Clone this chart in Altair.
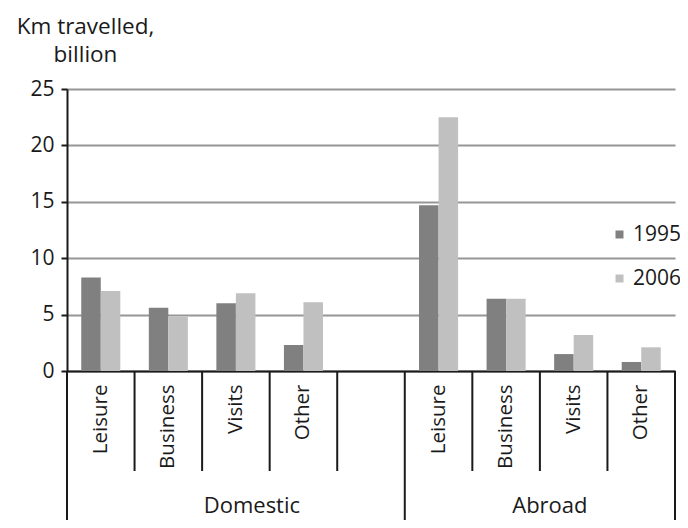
import altair as alt
import pandas as pd

# ---- data ----
slots = ["D-Leisure", "D-Business", "D-Visits", "D-Other", "gap",
         "A-Leisure", "A-Business", "A-Visits", "A-Other"]
categories = ["Leisure", "Business", "Visits", "Other"]
years = ["1995", "2006"]
dom_1995 = [8.3, 5.6, 6.0, 2.3]
dom_2006 = [7.1, 4.8, 6.9, 6.1]
abr_1995 = [14.7, 6.4, 1.5, 0.8]
abr_2006 = [22.5, 6.4, 3.2, 2.1]
group_labels = ["Domestic", "Abroad"]
y_ticks = [0, 5, 10, 15, 20, 25]

rows = []
for i, c in enumerate(categories):
    rows.append({"slot": "D-" + c, "year": "1995", "value": dom_1995[i]})
    rows.append({"slot": "D-" + c, "year": "2006", "value": dom_2006[i]})
for i, c in enumerate(categories):
    rows.append({"slot": "A-" + c, "year": "1995", "value": abr_1995[i]})
    rows.append({"slot": "A-" + c, "year": "2006", "value": abr_2006[i]})
df = pd.DataFrame(rows)

W, H = 608, 282
FONT = "Open Sans"
TXT = "#1a1a1a"
LINE = "#1a1a1a"

xscale = alt.Scale(domain=slots, paddingInner=0, paddingOuter=0)

bars = alt.Chart(df).mark_bar().encode(
    x=alt.X("slot:N", scale=xscale,
            axis=alt.Axis(title=None, ticks=False, labelAngle=270,
                          labelExpr="datum.value == 'gap' ? '' : substring(datum.value, 2)",
                          labelFontSize=20.5, labelFont=FONT, labelColor=TXT,
                          labelPadding=13, domainColor=LINE, domainWidth=2)),
    xOffset=alt.XOffset("year:N", scale=alt.Scale(paddingInner=0, paddingOuter=0.73)),
    y=alt.Y("value:Q", scale=alt.Scale(domain=[0, 25]),
            axis=alt.Axis(values=y_ticks, title=["Km travelled,", "billion"],
                          titleAngle=0, titleAlign="center", titleX=18, titleY=-56,
                          titleBaseline="alphabetic", titleLineHeight=28,
                          titleFontSize=22.5, titleFont=FONT, titleFontWeight="normal",
                          titleColor=TXT,
                          labelFontSize=21, labelFont=FONT, labelColor=TXT, labelPadding=7,
                          tickSize=6, tickColor=LINE, tickWidth=2,
                          domainColor=LINE, domainWidth=2,
                          grid=True, gridColor="#969696", gridWidth=2)),
    color=alt.Color("year:N", scale=alt.Scale(domain=years, range=["#808080", "#c0c0c0"]),
                    legend=alt.Legend(title=None, orient="none", legendX=542, legendY=135,
                                      symbolType="square", symbolSize=64,
                                      symbolStrokeWidth=0, labelFontSize=21,
                                      labelFont=FONT, labelColor=TXT, labelOffset=3,
                                      rowPadding=22, padding=0)),
)

inner_df = pd.DataFrame({"slot": [s for k, s in enumerate(slots) if k not in (0, 5)]})
inner = alt.Chart(inner_df).mark_rule(color=LINE, strokeWidth=2).encode(
    x=alt.X("slot:N", bandPosition=0, scale=xscale),
    y=alt.value(H), y2=alt.value(H + 100),
)

group_df = pd.DataFrame({"slot": [slots[0], slots[5]]})
group_lines = alt.Chart(group_df).mark_rule(color=LINE, strokeWidth=2).encode(
    x=alt.X("slot:N", bandPosition=0, scale=xscale),
    y=alt.value(H), y2=alt.value(H + 170),
)
end_df = pd.DataFrame({"slot": [slots[-1]]})
end_line = alt.Chart(end_df).mark_rule(color=LINE, strokeWidth=2).encode(
    x=alt.X("slot:N", bandPosition=1, scale=xscale),
    y=alt.value(H), y2=alt.value(H + 170),
)

dom_text = alt.Chart(pd.DataFrame({"slot": [slots[2]], "label": [group_labels[0]]})).mark_text(
    font=FONT, fontSize=22, color=TXT, baseline="alphabetic", align="center", dx=16
).encode(x=alt.X("slot:N", scale=xscale), y=alt.value(H + 142), text="label:N")

abr_text = alt.Chart(pd.DataFrame({"slot": [slots[6]], "label": [group_labels[1]]})).mark_text(
    font=FONT, fontSize=22, color=TXT, baseline="alphabetic", align="center", dx=10
).encode(x=alt.X("slot:N", bandPosition=1, scale=xscale), y=alt.value(H + 142), text="label:N")

chart = alt.layer(bars, inner, group_lines, end_line, dom_text, abr_text).properties(
    width=W, height=H,
    autosize=alt.AutoSizeParams(type="none"),
    padding={"left": 59, "top": 81, "right": 5, "bottom": 149},
    background="white",
).configure_view(stroke=None)

chart.save("out.html", embed_options={"renderer": "svg", "actions": False})
